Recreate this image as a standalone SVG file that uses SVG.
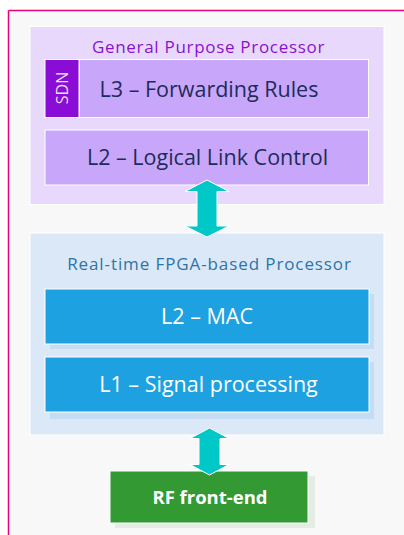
<svg xmlns="http://www.w3.org/2000/svg" width="404" height="535" viewBox="0 0 404 535">
  <style>
    .t { font-family: "Open Sans", "Noto Sans", "Liberation Sans", sans-serif; text-anchor: middle; }
    .title-gp { fill: #8a12cf; font-size: 17px; letter-spacing: 0.7px; }
    .title-rt { fill: #2e74a8; font-size: 17px; letter-spacing: 0.9px; }
    .lbl-dark { fill: #1d2b5a; font-size: 21.5px; }
    .lbl-light { fill: #ffffff; font-size: 21.5px; }
    .lbl-bold { fill: #ffffff; font-size: 18.5px; font-weight: bold; }
    .arrow { fill: #00c8c8; stroke: #ffffff; stroke-width: 1; }
  </style>

  <!-- page background and frame -->
  <rect x="0" y="0" width="404" height="535" fill="#ffffff"/>
  <rect x="8.5" y="10.5" width="400" height="530" fill="#f8f8f8"/>
  <line x1="8.5" y1="10.5" x2="404" y2="10.5" stroke="#e8007a" stroke-width="1.5"/>
  <line x1="8.5" y1="10.5" x2="8.5" y2="535" stroke="#e8007a" stroke-width="1.5"/>

  <!-- general purpose processor -->
  <g id="gpp">
    <rect x="30" y="26.5" width="354" height="178" fill="#e8d9fc" stroke="#ffffff" stroke-width="1"/>
    <text class="t title-gp" x="208.5" y="53">General Purpose Processor</text>
  </g>
  <g id="sdn">
    <rect x="45" y="59.5" width="34" height="58" fill="#8a0dd6" stroke="#ffffff" stroke-width="1"/>
    <text class="t" x="0" y="0" fill="#ecdeff" font-size="16" transform="translate(67.5 88) rotate(-90)">SDN</text>
  </g>
  <g id="l3">
    <rect x="79.5" y="59.5" width="289" height="58" fill="#c8a7fb" stroke="#ffffff" stroke-width="1"/>
    <text class="t lbl-dark" x="209" y="97">L3 – Forwarding Rules</text>
  </g>
  <g id="l2-llc">
    <rect x="45" y="130" width="323.5" height="55" fill="#c8a7fb" stroke="#ffffff" stroke-width="1"/>
    <text class="t lbl-dark" x="207.5" y="165">L2 – Logical Link Control</text>
  </g>

  <!-- real-time FPGA-based processor -->
  <g id="rtp">
    <rect x="30" y="233" width="354" height="202" fill="#dae8f7" stroke="#ffffff" stroke-width="1"/>
    <text class="t title-rt" x="209.5" y="270">Real-time FPGA-based Processor</text>
  </g>
  <g id="l2-mac">
    <rect x="50" y="294" width="324" height="55" fill="#c4ddf2"/>
    <rect x="45" y="289" width="324" height="55" fill="#1ea1e0" stroke="#ffffff" stroke-width="1"/>
    <text class="t lbl-light" x="207" y="324">L2 – MAC</text>
  </g>
  <g id="l1">
    <rect x="50" y="362" width="324" height="57" fill="#c4ddf2"/>
    <rect x="45" y="357" width="324" height="55" fill="#1ea1e0" stroke="#ffffff" stroke-width="1"/>
    <text class="t lbl-light" x="208.5" y="392">L1 – Signal processing</text>
  </g>

  <!-- RF front-end -->
  <g id="rf">
    <rect x="115" y="476" width="200" height="52" fill="#e3ede3"/>
    <rect x="110" y="471" width="198" height="52" fill="#339933" stroke="#ffffff" stroke-width="1"/>
    <text class="t lbl-bold" x="210" y="504">RF front-end</text>
  </g>

  <!-- connectors -->
  <g id="connectors">
    <path class="arrow" d="M207 180 L229 191.5 L217 191.5 L217 226 L229 226 L207 237 L185 226 L197 226 L197 191.5 L185 191.5 Z"/>
    <path class="arrow" d="M209.5 428 L229 438.5 L220 438.5 L220 464.5 L229 464.5 L209.5 475 L190 464.5 L199 464.5 L199 438.5 L190 438.5 Z"/>
  </g>
</svg>
